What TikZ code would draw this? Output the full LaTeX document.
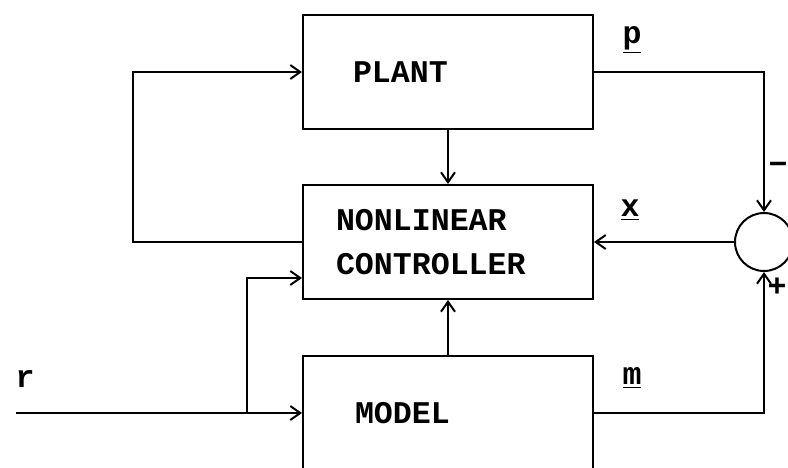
\documentclass[tikz,border=0pt]{standalone}
\usepackage{fontspec}
\setmonofont{Liberation Mono}
\usepackage{tikz}
\usetikzlibrary{positioning,arrows.meta}

\begin{document}
\begin{tikzpicture}[x=0.5pt, y=-0.5pt, >={Straight Barb[length=5pt,width=7pt]},
  font=\fontsize{15.8}{22}\ttfamily\bfseries, line width=1pt,
  blk/.style={draw, minimum width=145pt, minimum height=57pt, align=left}]
  \clip (0,0) rectangle (788,467);
  % the three blocks, text set towards the left
  \node[blk, text width=95pt, inner xsep=25pt] (plant) at (448,72) {PLANT};
  \node[blk, text width=112pt, inner xsep=16.5pt, below=27pt of plant] (ctrl) {NONLINEAR\\CONTROLLER};
  \node[blk, text width=93pt, inner xsep=26pt, below=27.5pt of ctrl] (model) {MODEL};
  % comparator
  \node[draw, circle, minimum size=29pt] (sum) at ([xshift=85pt]ctrl.east) {};
  \node[inner sep=0pt] (minus) at (778,168) {−};
  \node[inner sep=0pt] (plus) at (777,287) {+};
  % signals
  \draw[->] (plant.east) -| (sum.north);
  \draw[->] (model.east) -| (sum.south);
  \draw[->] (sum.west) -- (ctrl.east);
  \node (plbl) at (632,40) {\underline{p}};
  \node (xlbl) at (630,210) {\underline{x}};
  \node (mlbl) at (632,378) {\underline{m}};
  \draw[->] (plant.south) -- (plant.south |- ctrl.north);
  \draw[->] (model.north) -- (model.north |- ctrl.south);
  % feedback to the plant
  \coordinate (fb) at (133,72);
  \draw[->] (ctrl.west) -| (fb) -- (plant.west);
  % reference input r
  \coordinate (rin) at ([xshift=-143pt]model.west);
  \coordinate (rsplit) at ([xshift=-27.5pt]model.west);
  \coordinate (rup) at ([yshift=-18pt]ctrl.west -| rsplit);
  \node (rlbl) at (25,379) {r};
  \draw[->] (rin) -- (model.west);
  \draw[->] (rsplit) -- (rup) -- (rup -| ctrl.west);
\end{tikzpicture}
\end{document}
